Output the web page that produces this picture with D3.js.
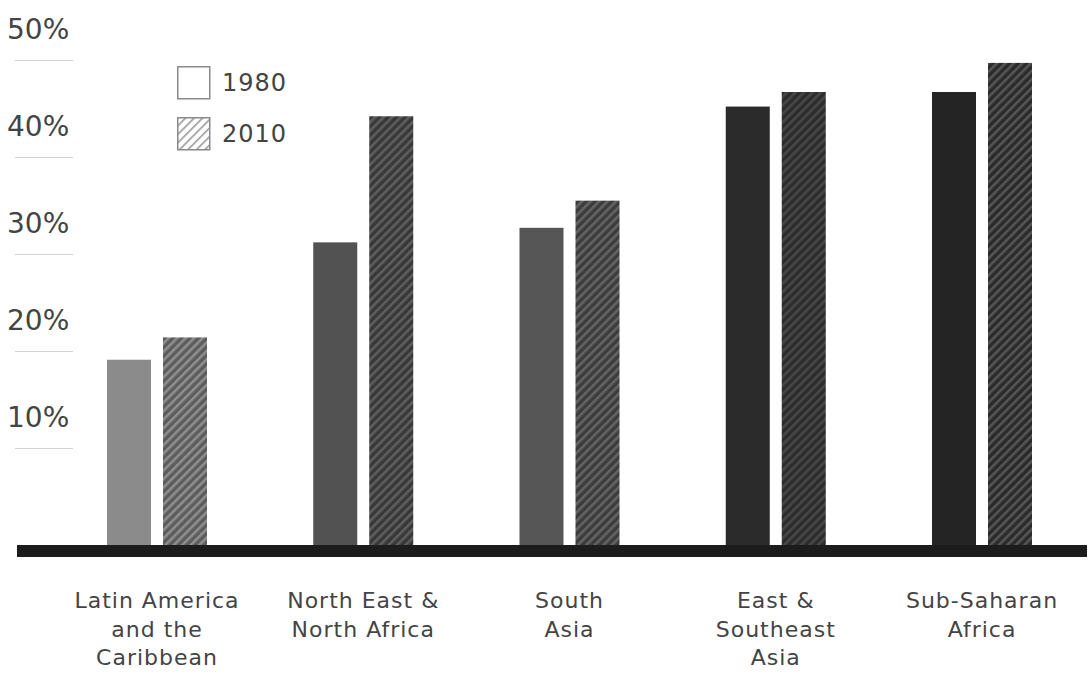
<!DOCTYPE html>
<html>
<head>
<meta charset="utf-8">
<script src="https://cdn.jsdelivr.net/npm/d3@7"></script>
<style>
  html, body { margin: 0; padding: 0; background: #ffffff; }
  svg { display: block; }
</style>
</head>
<body>
<svg id="chart" width="1092" height="686"></svg>
<script>
// Regions (line breaks mark how each axis label wraps)
const categories = [
  "Latin America\nand the\nCaribbean",
  "North East &\nNorth Africa",
  "South\nAsia",
  "East &\nSoutheast\nAsia",
  "Sub-Saharan\nAfrica"
];
const series = ["1980", "2010"];
const values1980 = [19.1, 31.2, 32.7, 45.2, 46.7];
const values2010 = [21.4, 44.2, 35.5, 46.7, 49.7];
const yTicks = [10, 20, 30, 40, 50];

const FONT = "'DejaVu Sans', 'Open Sans', sans-serif";
const svg = d3.select("#chart");

// Scales
const y = d3.scaleLinear().domain([0, 50]).range([545, 60]);
const x = d3.scalePoint().domain(categories).range([157, 982]);
const xSub = d3.scaleBand().domain(series).range([-50, 50]).paddingInner(0.214);

// Per-region shading, lighter on the left and darker to the right
const solidFill = d3.scaleOrdinal().domain(categories)
  .range(["#8b8b8b", "#525252", "#565656", "#2b2b2b", "#242424"]);
const hatchBase = d3.scaleOrdinal().domain(categories)
  .range(["#5c5c5c", "#383838", "#3c3c3c", "#2c2c2c", "#2a2a2a"]);
const hatchLine = d3.scaleOrdinal().domain(categories)
  .range(["#8e8e8e", "#5e5e5e", "#646464", "#474747", "#555555"]);

const defs = svg.append("defs");
categories.forEach((c, i) => {
  const p = defs.append("pattern")
    .attr("id", "hatch" + i)
    .attr("patternUnits", "userSpaceOnUse")
    .attr("width", 6).attr("height", 6)
    .attr("patternTransform", "rotate(45)");
  p.append("rect").attr("width", 6).attr("height", 6).attr("fill", hatchBase(c));
  p.append("rect").attr("x", 0).attr("y", 0).attr("width", 2.6).attr("height", 6)
    .attr("fill", hatchLine(c));
});
const legendHatch = defs.append("pattern")
  .attr("id", "hatchLegend")
  .attr("patternUnits", "userSpaceOnUse")
  .attr("width", 6).attr("height", 6)
  .attr("patternTransform", "rotate(45)");
legendHatch.append("rect").attr("width", 6).attr("height", 6).attr("fill", "#ffffff");
legendHatch.append("rect").attr("width", 1.6).attr("height", 6).attr("fill", "#9a9a9a");

// Y axis: short gridlines with labels sitting above them
const yAxis = svg.append("g").attr("class", "y-axis");
const yt = yAxis.selectAll("g.tick").data(yTicks).join("g").attr("class", "tick");
yt.append("line")
  .attr("x1", 15).attr("x2", 73)
  .attr("y1", d => Math.round(y(d)) + 0.5).attr("y2", d => Math.round(y(d)) + 0.5)
  .attr("stroke", "#d2d2d2").attr("stroke-width", 1.2);
yt.append("text")
  .attr("x", 7).attr("y", d => y(d) - 21)
  .attr("font-family", FONT)
  .attr("font-size", 28)
  .attr("fill", "#444")
  .text(d => d + "%");

// Bars
const groups = svg.append("g").selectAll("g.region")
  .data(categories.map((c, i) => ({ c, i, v: [values1980[i], values2010[i]] })))
  .join("g").attr("class", "region")
  .attr("transform", d => `translate(${x(d.c)},0)`);

groups.selectAll("rect")
  .data(d => series.map((s, j) => ({ s, c: d.c, i: d.i, v: d.v[j] })))
  .join("rect")
  .attr("x", d => xSub(d.s))
  .attr("width", xSub.bandwidth())
  .attr("y", d => y(d.v))
  .attr("height", d => y(0) - y(d.v))
  .attr("fill", d => d.s === "1980" ? solidFill(d.c) : `url(#hatch${d.i})`);

// Baseline bar
svg.append("rect")
  .attr("x", 17).attr("width", 1070)
  .attr("y", y(0)).attr("height", 12)
  .attr("fill", "#1c1c1c");

// Category labels
const xl = svg.append("g").selectAll("text")
  .data(categories).join("text")
  .attr("x", d => x(d))
  .attr("y", 608)
  .attr("text-anchor", "middle")
  .attr("font-family", FONT)
  .attr("font-size", 22)
  .attr("letter-spacing", 1)
  .attr("fill", "#444");
xl.selectAll("tspan")
  .data(d => d.split("\n").map(t => ({ t, x: x(d) })))
  .join("tspan")
  .attr("x", d => d.x)
  .attr("dy", (d, k) => k === 0 ? 0 : 28.5)
  .text(d => d.t);

// Legend
const legend = svg.append("g").attr("class", "legend");
const li = legend.selectAll("g").data(series).join("g")
  .attr("transform", (d, k) => `translate(177,${66 + k * 51})`);
li.append("rect")
  .attr("x", 0.75).attr("y", 0.75).attr("width", 32).attr("height", 32)
  .attr("fill", d => d === "1980" ? "#ffffff" : "url(#hatchLegend)")
  .attr("stroke", "#8a8a8a").attr("stroke-width", 1.5);
li.append("text")
  .attr("x", 45).attr("y", 25)
  .attr("font-family", FONT)
  .attr("font-size", 24)
  .attr("letter-spacing", 1)
  .attr("fill", "#444")
  .text(d => d);
</script>
</body>
</html>
